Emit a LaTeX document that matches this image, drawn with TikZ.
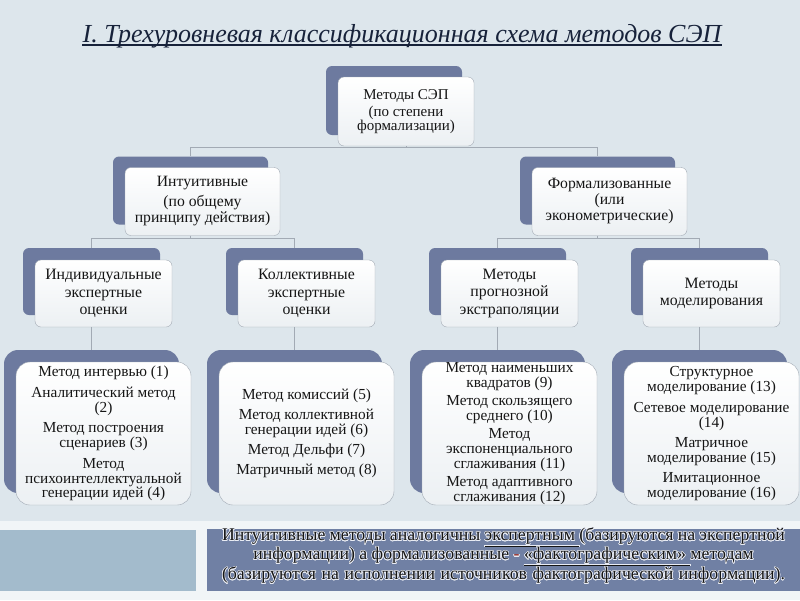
\documentclass[tikz,border=0pt]{standalone}
\usepackage{fontspec}
\setmainfont{Liberation Serif}
\usepackage[copies]{contour}
\contournumber{24}
\usetikzlibrary{calc}
\definecolor{bg}{HTML}{DDE6EC}
\definecolor{bglite}{HTML}{F1F5F7}
\definecolor{slate}{HTML}{6D7A9F}
\definecolor{slatemid}{HTML}{7080A4}
\definecolor{slatelite}{HTML}{A3BBCC}
\definecolor{edge}{HTML}{A2AAB4}
\definecolor{boxlow}{HTML}{ECF0F3}
\definecolor{ink}{HTML}{151515}
\definecolor{navy}{HTML}{17223A}
\definecolor{glow}{HTML}{E9ECF4}
\definecolor{dash}{HTML}{8E2420}

\begin{document}
\begin{tikzpicture}[x=1pt,y=-1pt,
    tab/.style={rounded corners=6pt,fill=slate},
    box/.style={rounded corners=6pt,draw=edge,top color=white,bottom color=boxlow,align=center,text=ink,inner sep=0pt},
    lone/.style={minimum width=136pt,minimum height=69pt,font=\fontsize{15}{14}\selectfont},
    ltwo/.style={minimum width=155pt,minimum height=68pt,font=\fontsize{15.7}{16}\selectfont},
    lthree/.style={minimum width=137pt,minimum height=67pt,font=\fontsize{15.8}{17.5}\selectfont},
    lfour/.style={rounded corners=14pt,minimum width=175pt,minimum height=143pt,font=\fontsize{15.3}{12.4}\selectfont},
    link/.style={draw=edge,line width=0.9pt}]
  % background and bottom strip
  \fill[bg] (0,0) rectangle (800,600);
  \fill[bglite] (0,521) rectangle (800,600);
  \fill[slatelite] (0,530) rectangle (196,591);
  \fill[slatemid] (207,529) rectangle (800,591);

  % title
  \node[inner sep=0pt,text=navy,font=\fontsize{26}{30}\selectfont\itshape] (title) at (402,36)
    {I. Трехуровневая классификационная схема методов СЭП};
  \draw[navy,line width=1.6pt] ([yshift=-3pt]title.base west) -- ([yshift=-3pt]title.base east);

  % level 1
  \node[tab,lone] (rootT) at (394,100.5) {};
  \node[box,lone] (root) at ([shift={(12,11)}]rootT) {Методы СЭП\\[3pt](по степени\\формализации)};

  % level 2
  \node[tab,ltwo] (intT) at (190.5,190.5) {};
  \node[box,ltwo] (int) at ([shift={(12,11)}]intT) {Интуитивные\\[4pt](по общему\\принципу действия)};
  \node[tab,ltwo] (frmT) at (597.5,190.5) {};
  \node[box,ltwo] (frm) at ([shift={(12,11)}]frmT) {Формализованные\\(или\\эконометрические)};

  % level 3
  \node[tab,lthree] (iexpT) at (91.5,281.5) {};
  \node[box,lthree] (iexp) at ([shift={(12,12)}]iexpT) {Индивидуальные\\экспертные\\оценки};
  \node[tab,lthree] (cexpT) at (294.5,281.5) {};
  \node[box,lthree] (cexp) at ([shift={(12,12)}]cexpT) {Коллективные\\экспертные\\оценки};
  \node[tab,lthree] (extrT) at (497.5,281.5) {};
  \node[box,lthree] (extr) at ([shift={(12,12)}]extrT) {Методы\\прогнозной\\экстраполяции};
  \node[tab,lthree] (modlT) at (699.5,281.5) {};
  \node[box,lthree] (modl) at ([shift={(12,12)}]modlT) {Методы\\моделирования};

  % level 3: lists of methods
  \node[tab,lfour] (iexpLT) at (91.5,421.5) {};
  \node[box,lfour] (iexpL) at ([shift={(12,12)}]iexpLT) {Метод интервью (1)\\[6.5pt]Аналитический метод\\(2)\\[6.5pt]Метод построения\\сценариев (3)\\[6.5pt]Метод\\психоинтеллектуальной\\генерации идей (4)};
  \node[tab,lfour] (cexpLT) at (294.5,421.5) {};
  \node[box,lfour] (cexpL) at ([shift={(12,12)}]cexpLT) {Метод комиссий (5)\\[5.5pt]Метод коллективной\\генерации идей (6)\\[5.5pt]Метод Дельфи (7)\\[5.5pt]Матричный метод (8)};
  \node[tab,lfour] (extrLT) at (497.5,421.5) {};
  \node[box,lfour,font=\fontsize{15.3}{13}\selectfont] (extrL) at ([shift={(12,12)}]extrLT) {Метод наименьших\\квадратов (9)\\[4pt]Метод скользящего\\среднего (10)\\[4pt]Метод\\[2.5pt]экспоненциального\\сглаживания (11)\\[4pt]Метод адаптивного\\сглаживания (12)};
  \node[tab,lfour] (modlLT) at (699.5,421.5) {};
  \node[box,lfour] (modlL) at ([shift={(12,12)}]modlLT) {Структурное\\моделирование (13)\\[6pt]Сетевое моделирование\\(14)\\[6pt]Матричное\\моделирование (15)\\[6pt]Имитационное\\моделирование (16)};

  % connectors
  \draw[link] (root.south) -- ++(0,1) coordinate (b0);
  \draw[link] (intT.north) |- (b0) -| (frmT.north);
  \draw[link] (int.south -| intT.south) -- ++(0,3) coordinate (b1);
  \draw[link] (iexpT.north) |- (b1) -| (cexpT.north);
  \draw[link] (frm.south -| frmT.south) -- ++(0,3) coordinate (b2);
  \draw[link] (extrT.north) |- (b2) -| (modlT.north);
  \draw[link] (iexp.south -| iexpT.south) -- (iexpLT.north);
  \draw[link] (cexp.south -| cexpT.south) -- (cexpLT.north);
  \draw[link] (extr.south -| extrT.south) -- (extrLT.north);
  \draw[link] (modl.south -| modlT.south) -- (modlLT.north);

  % note
  \node[text=ink,align=center,inner sep=0pt,font=\fontsize{17.8}{19}\selectfont] (note) at (503.5,556)
    {\contour{glow}{\makebox[563pt][s]{Интуитивные методы аналогичны \underline{экспертным }(базируются на экспертной}}\\
     \contour{glow}{информации) а формализованные {\color{dash}-} \underline{«фактографическим» }методам}\\
     \contour{glow}{\makebox[563pt][s]{(базируются на исполнении источников фактографической информации).}}};
\end{tikzpicture}
\end{document}
